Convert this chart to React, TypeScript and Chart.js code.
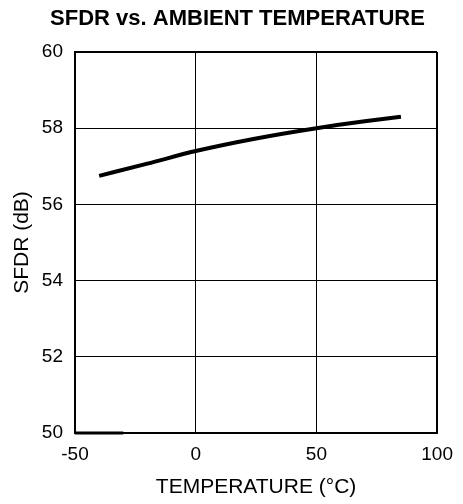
import React, { useEffect, useRef } from "react";
import { Chart, registerables } from "chart.js";

Chart.register(...registerables);

const titleText = "SFDR vs. AMBIENT TEMPERATURE";
const xTitle = "TEMPERATURE (°C)";
const yTitle = "SFDR (dB)";

const temperature = [-40, -20, 0, 25, 50, 70, 85];
const sfdr = [56.75, 57.07, 57.4, 57.73, 58.0, 58.18, 58.3];

const stubTemperature = [-50, -30];
const stubValue = [50, 50];

const xMin = -50;
const xMax = 100;
const xStep = 50;
const yMin = 50;
const yMax = 60;
const yStep = 2;

const FONT = "'Liberation Sans', Arial, Helvetica, sans-serif";

export default function App() {
  const ref = useRef<HTMLCanvasElement | null>(null);

  useEffect(() => {
    if (!ref.current) return;
    const edgeWidth = (count: number) => (ctx: any) =>
      ctx.index === 0 || ctx.index === count - 1 ? 2 : 1;
    const chart = new Chart(ref.current, {
      type: "line",
      data: {
        datasets: [
          {
            data: temperature.map((t, i) => ({ x: t, y: sfdr[i] })),
            borderColor: "#000",
            borderWidth: 4,
            pointRadius: 0,
            tension: 0.4,
            cubicInterpolationMode: "monotone",
            fill: false,
          },
          {
            data: stubTemperature.map((t, i) => ({ x: t, y: stubValue[i] })),
            borderColor: "#000",
            borderWidth: 3,
            pointRadius: 0,
            fill: false,
            clip: 4,
          },
        ],
      },
      options: {
        responsive: false,
        animation: false,
        layout: { padding: { left: 33, right: 21, top: 0, bottom: 0 } },
        plugins: {
          legend: { display: false },
          tooltip: { enabled: false },
          title: {
            display: true,
            text: titleText,
            color: "#000",
            font: { family: FONT, size: 22, weight: "bold", lineHeight: 1.2 },
            padding: { top: 6, bottom: 19.6 },
          },
        },
        scales: {
          x: {
            type: "linear",
            min: xMin,
            max: xMax,
            afterFit: (s: any) => {
              s.height = 71;
            },
            ticks: {
              stepSize: xStep,
              color: "#000",
              padding: 10,
              font: { family: FONT, size: 19 },
              maxRotation: 0,
            },
            grid: {
              color: "#000",
              lineWidth: edgeWidth(4),
              drawTicks: false,
            },
            border: { display: true, color: "#000", width: 2 },
            title: {
              display: true,
              text: xTitle,
              color: "#000",
              font: { family: FONT, size: 21, lineHeight: 1.2 },
              padding: { top: 0, bottom: 4 },
            },
          },
          y: {
            type: "linear",
            min: yMin,
            max: yMax,
            afterFit: (s: any) => {
              s.width = 42;
            },
            ticks: {
              stepSize: yStep,
              color: "#000",
              padding: 12,
              font: { family: FONT, size: 19 },
            },
            grid: {
              color: "#000",
              lineWidth: edgeWidth(6),
              drawTicks: false,
            },
            border: { display: true, color: "#000", width: 2 },
            title: {
              display: true,
              text: yTitle,
              color: "#000",
              font: { family: FONT, size: 21, lineHeight: 1.2 },
              padding: { top: -23, bottom: 0 },
            },
          },
        },
      },
    } as any);
    return () => chart.destroy();
  }, []);

  return (
    <div style={{ position: "absolute", left: 0, top: 0, width: 463, height: 504, background: "#fff" }}>
      <canvas ref={ref} width={463} height={504} style={{ display: "block" }} />
    </div>
  );
}
